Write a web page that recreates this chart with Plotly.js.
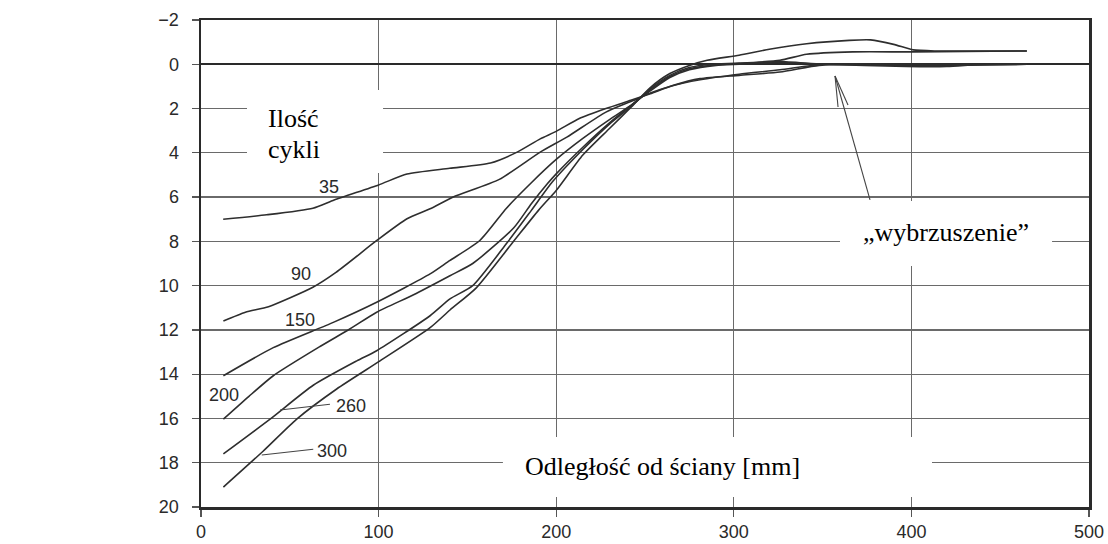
<!DOCTYPE html>
<html>
<head>
<meta charset="utf-8">
<script src="https://cdn.plot.ly/plotly-3.0.1.min.js"></script>
<style>html,body{margin:0;padding:0;background:#fff;}#chart{width:1108px;height:544px;}</style>
</head>
<body>
<div id="chart"></div>
<script>
// Number of cycles (series labels)
const cycles = ["35", "90", "150", "200", "260", "300"];

// Distance from wall [mm] and settlement [mm] for each series
const x35 = [12.5, 37, 63, 75, 100, 116, 140, 163, 178, 191, 200, 213, 228, 242, 253, 266, 281, 303, 326, 348, 370, 400, 465];
const y35 = [7.0, 6.8, 6.5, 6.13, 5.45, 4.96, 4.70, 4.46, 3.97, 3.37, 3.03, 2.45, 2.0, 1.63, 1.33, 0.95, 0.65, 0.5, 0.35, 0.05, 0.0, 0.05, 0.0];

const x90 = [12.6, 25, 38, 63, 76, 99, 116, 129, 142, 168, 191, 206, 228, 243, 253, 264, 281, 303, 326, 350, 400, 465];
const y90 = [11.6, 11.2, 10.95, 10.07, 9.4, 7.96, 6.98, 6.53, 6.0, 5.2, 3.97, 3.29, 2.16, 1.65, 1.3, 1.0, 0.7, 0.45, 0.25, 0.0, 0.0, 0.0];

const x150 = [12.6, 40.7, 74.5, 98.9, 129, 140, 157, 172, 186, 200, 215, 230, 243, 253, 264, 275, 290, 303, 326, 350, 400, 465];
const y150 = [14.07, 12.8, 11.66, 10.75, 9.47, 8.87, 7.96, 6.5, 5.35, 4.3, 3.35, 2.5, 1.8, 1.2, 0.6, 0.25, 0.05, 0.0, -0.08, 0.0, 0.05, 0.0];

const x200 = [12.6, 27, 40.7, 67, 84, 98.9, 120, 140.2, 153, 176, 186, 195, 200, 215, 230, 243, 253, 264, 275, 290, 303, 326, 350, 397, 420, 440, 465];
const y200 = [16.03, 15.0, 14.07, 12.75, 11.95, 11.2, 10.4, 9.55, 9.0, 7.4, 6.3, 5.4, 4.95, 3.75, 2.65, 1.8, 1.15, 0.55, 0.2, 0.02, -0.03, -0.12, 0.0, 0.1, 0.1, 0.0, 0.0];

const x260 = [12.6, 38.9, 63.2, 87.7, 98.9, 129, 140.2, 153, 172, 186, 198, 215, 230, 243, 253, 264, 275, 287, 303, 326, 341, 367, 401, 465];
const y260 = [17.6, 16.03, 14.5, 13.4, 12.94, 11.36, 10.6, 10.0, 8.1, 6.6, 5.3, 3.85, 2.7, 1.85, 1.1, 0.5, 0.15, 0.0, -0.05, -0.18, -0.45, -0.56, -0.56, -0.6];

const x300 = [12.6, 35.1, 53.9, 76.4, 100.8, 129, 140.2, 155, 176, 190, 200, 215, 230, 242, 253, 264, 275, 285, 303, 320, 341, 365, 377, 390, 401, 414, 465];
const y300 = [19.1, 17.47, 16.03, 14.67, 13.4, 11.9, 11.1, 10.1, 8.0, 6.6, 5.7, 4.1, 2.9, 1.95, 1.05, 0.42, 0.05, -0.18, -0.41, -0.68, -0.93, -1.08, -1.1, -0.9, -0.65, -0.6, -0.6];

// Axis tick values
const xTicks = [0, 100, 200, 300, 400, 500];
const yTicks = [-2, 0, 2, 4, 6, 8, 10, 12, 14, 16, 18, 20];

const seriesX = [x35, x90, x150, x200, x260, x300];
const seriesY = [y35, y90, y150, y200, y260, y300];

const lineColor = '#2e2e2e';
const traces = seriesX.map((xs, i) => ({
  type: 'scatter', mode: 'lines', name: cycles[i],
  x: xs, y: seriesY[i],
  line: {color: lineColor, width: 1.6, shape: 'spline', smoothing: 0.6},
  hoverinfo: 'skip', showlegend: false
}));

const serif = 'Liberation Serif, Times New Roman, serif';
const sans = 'Liberation Sans, Arial, sans-serif';
const numFont = {family: sans, size: 18, color: '#2a2a2a'};
const txtFont = {family: serif, size: 26, color: '#000'};

function ann(text, x, y, font, xanchor) {
  return {text: text, x: x, y: y, xref: 'x', yref: 'y', showarrow: false,
          font: font, xanchor: xanchor || 'center', yanchor: 'middle'};
}

const annotations = [
  ann(cycles[0], 72.1, 5.54, numFont),
  ann(cycles[1], 56.3, 9.47, numFont),
  ann(cycles[2], 55.7, 11.55, numFont),
  ann(cycles[3], 13, 14.92, numFont),
  ann(cycles[4], 84.5, 15.42, numFont),
  ann(cycles[5], 74, 17.45, numFont),
  ann('Ilość', 36.6, 2.47, txtFont, 'left'),
  ann('cykli', 36.6, 3.87, txtFont, 'left'),
  ann('„wybrzuszenie”', 419.5, 7.62, txtFont),
  ann('Odległość od ściany [mm]', 181.3, 18.19, txtFont, 'left'),
  ann('Osiadanie', -106.4, 12.5, txtFont, 'left'),
  ann('[mm]', -106.4, 13.9, txtFont, 'left')
];

function rect(x0, x1, y0, y1) {
  return {type: 'rect', xref: 'x', yref: 'y', x0: x0, x1: x1, y0: y0, y1: y1,
          fillcolor: '#fff', line: {width: 0}, layer: 'between'};
}
function seg(x0, y0, x1, y1) {
  return {type: 'line', xref: 'x', yref: 'y', x0: x0, y0: y0, x1: x1, y1: y1,
          line: {color: '#444', width: 1.1}, layer: 'above'};
}

const shapes = [
  rect(25.9, 102.5, 1.16, 4.91),
  rect(359.8, 479.2, 6.18, 9.11),
  rect(170, 411.6, 16.84, 19.55),
  seg(44.5, 15.62, 72.6, 15.36),
  seg(34.2, 17.65, 63.2, 17.39),
  seg(376.7, 6.13, 357, 0.53),
  seg(357, 0.53, 358.7, 1.93),
  seg(357, 0.53, 364.3, 1.84)
];

const layout = {
  width: 1108, height: 544,
  margin: {l: 201, r: 19, t: 20, b: 37, pad: 0},
  paper_bgcolor: '#fff', plot_bgcolor: '#fff',
  showlegend: false,
  xaxis: {
    range: [0, 500], tickvals: xTicks, ticktext: xTicks.map(String),
    showgrid: true, gridcolor: '#6a6a6a', gridwidth: 1.2,
    zeroline: false,
    showline: true, mirror: true, linecolor: '#2a2a2a', linewidth: 2.5,
    ticks: 'outside', ticklen: 7, tickwidth: 1.2, tickcolor: '#555',
    tickfont: numFont, ticklabelstandoff: 0
  },
  yaxis: {
    range: [20, -2], tickvals: yTicks,
    ticktext: yTicks.map(v => v < 0 ? '\u2212' + Math.abs(v) : String(v)),
    showgrid: true, gridcolor: '#6a6a6a', gridwidth: 1.2,
    zeroline: true, zerolinecolor: '#2a2a2a', zerolinewidth: 2.2,
    showline: true, mirror: true, linecolor: '#2a2a2a', linewidth: 2.5,
    ticks: 'outside', ticklen: 7, tickwidth: 1.2, tickcolor: '#555',
    tickfont: numFont, ticklabelstandoff: 9
  },
  annotations: annotations,
  shapes: shapes
};

Plotly.newPlot('chart', traces, layout, {staticPlot: true, displayModeBar: false});
</script>
</body>
</html>
